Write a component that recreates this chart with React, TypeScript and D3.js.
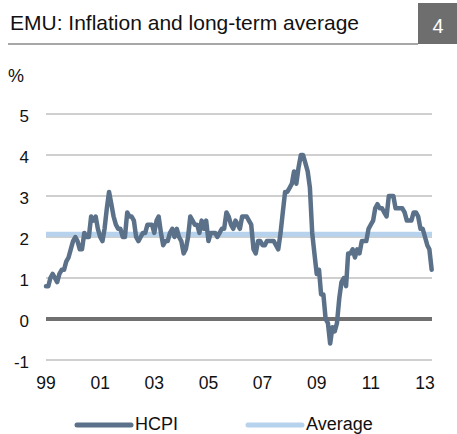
import * as d3 from "d3";
import { useEffect, useRef } from "react";

// euro area HICP, % y/y, monthly from Jan 1999 to Apr 2013
const hcpi1999 = [0.8, 0.8, 1.0, 1.1, 1.0, 0.9, 1.1, 1.2, 1.2, 1.4, 1.5, 1.7];
const hcpi2000 = [1.9, 2.0, 1.9, 1.7, 1.7, 2.1, 2.0, 2.0, 2.5, 2.4, 2.5, 2.2];
const hcpi2001 = [2.0, 1.9, 2.2, 2.7, 3.1, 2.8, 2.5, 2.3, 2.2, 2.2, 2.0, 2.0];
const hcpi2002 = [2.6, 2.5, 2.5, 2.4, 2.0, 1.9, 2.0, 2.1, 2.1, 2.3, 2.3, 2.3];
const hcpi2003 = [2.1, 2.4, 2.5, 2.1, 1.8, 1.9, 1.9, 2.1, 2.2, 2.0, 2.2, 2.0];
const hcpi2004 = [1.9, 1.6, 1.7, 2.0, 2.5, 2.4, 2.3, 2.3, 2.1, 2.4, 2.2, 2.4];
const hcpi2005 = [1.9, 2.1, 2.1, 2.1, 2.0, 2.1, 2.2, 2.2, 2.6, 2.5, 2.3, 2.2];
const hcpi2006 = [2.4, 2.3, 2.2, 2.5, 2.5, 2.5, 2.4, 2.3, 1.7, 1.6, 1.9, 1.9];
const hcpi2007 = [1.8, 1.8, 1.9, 1.9, 1.9, 1.9, 1.8, 1.7, 2.1, 2.6, 3.1, 3.1];
const hcpi2008 = [3.2, 3.3, 3.6, 3.3, 3.7, 4.0, 4.0, 3.8, 3.6, 3.2, 2.1, 1.6];
const hcpi2009 = [1.1, 1.2, 0.6, 0.6, 0.0, -0.1, -0.6, -0.2, -0.3, -0.1, 0.5, 0.9];
const hcpi2010 = [1.0, 0.8, 1.6, 1.6, 1.7, 1.5, 1.7, 1.6, 1.9, 1.9, 1.9, 2.2];
const hcpi2011 = [2.3, 2.4, 2.7, 2.8, 2.7, 2.7, 2.6, 2.5, 3.0, 3.0, 3.0, 2.7];
const hcpi2012 = [2.7, 2.7, 2.7, 2.6, 2.4, 2.4, 2.4, 2.6, 2.6, 2.5, 2.2, 2.2];
const hcpi2013 = [2.0, 1.8, 1.7, 1.2];

const longTermAverage = 2.07;
const yTicks = [-1, 0, 1, 2, 3, 4, 5];
const xTickYears = [1999, 2001, 2003, 2005, 2007, 2009, 2011, 2013];
const legendLabels = ["HCPI", "Average"];

const HCPI_COLOR = "#5a7189";
const AVG_COLOR = "#b7d2ec";
const FONT = "Arial, 'Liberation Sans', sans-serif";

const Chart = () => {
    const ref = useRef<SVGSVGElement>(null);

    useEffect(() => {
        const svg = d3.select(ref.current);
        svg.selectAll("*").remove();

        const values = [
            ...hcpi1999, ...hcpi2000, ...hcpi2001, ...hcpi2002, ...hcpi2003,
            ...hcpi2004, ...hcpi2005, ...hcpi2006, ...hcpi2007, ...hcpi2008,
            ...hcpi2009, ...hcpi2010, ...hcpi2011, ...hcpi2012, ...hcpi2013,
        ];
        const data = values.map((v, i) => ({ date: new Date(1999, i, 1), value: v }));

        const x = d3.scaleTime()
            .domain([new Date(1999, 0, 1), new Date(2013, 0, 1)])
            .range([46, 425]);
        const y = d3.scaleLinear().domain([-1, 5]).range([360, 114]);

        // title + box
        svg.append("text")
            .attr("x", 10).attr("y", 30)
            .attr("font-size", 21)
            .attr("fill", "#111")
            .text("EMU: Inflation and long-term average");
        svg.append("line")
            .attr("x1", 8).attr("x2", 418)
            .attr("y1", 44).attr("y2", 44)
            .attr("stroke", "#8a8a8a").attr("stroke-width", 1.5);
        svg.append("rect")
            .attr("x", 418).attr("y", 3)
            .attr("width", 39).attr("height", 41)
            .attr("fill", "#6e6e6e");
        svg.append("text")
            .attr("x", 438).attr("y", 33)
            .attr("text-anchor", "middle")
            .attr("font-size", 20)
            .attr("fill", "white")
            .text("4");
        svg.append("text")
            .attr("x", 8).attr("y", 82)
            .attr("font-size", 18)
            .attr("fill", "#111")
            .text("%");

        // grid
        svg.append("g")
            .selectAll("line")
            .data(yTicks)
            .join("line")
            .attr("x1", 46).attr("x2", 432)
            .attr("y1", d => y(d)).attr("y2", d => y(d))
            .attr("stroke", d => d === 0 ? "#707070" : "#a0a0a0")
            .attr("stroke-width", d => d === 0 ? 4 : 1.2);

        svg.append("g")
            .selectAll("text")
            .data(yTicks)
            .join("text")
            .attr("x", 29)
            .attr("y", d => y(d) + 7.5)
            .attr("text-anchor", "end")
            .attr("font-size", 17)
            .attr("fill", "#111")
            .text(d => d);

        svg.append("g")
            .selectAll("text")
            .data(xTickYears)
            .join("text")
            .attr("x", d => x(new Date(d, 0, 1)))
            .attr("y", 389)
            .attr("text-anchor", "middle")
            .attr("font-size", 17.5)
            .attr("fill", "#111")
            .text(d => d3.timeFormat("%y")(new Date(d, 0, 1)));

        // average
        svg.append("line")
            .attr("x1", 46).attr("x2", 432)
            .attr("y1", y(longTermAverage)).attr("y2", y(longTermAverage))
            .attr("stroke", AVG_COLOR).attr("stroke-width", 5);

        // hcpi line
        const line = d3.line<{ date: Date; value: number }>()
            .x(d => x(d.date))
            .y(d => y(d.value));
        svg.append("path")
            .datum(data)
            .attr("d", line)
            .attr("fill", "none")
            .attr("stroke", HCPI_COLOR)
            .attr("stroke-width", 4.5)
            .attr("stroke-linejoin", "round")
            .attr("stroke-linecap", "round");

        // legend
        const legend = svg.append("g");
        const legendX = [77, 248];
        const legendColors = [HCPI_COLOR, AVG_COLOR];
        legendLabels.forEach((label, i) => {
            legend.append("line")
                .attr("x1", legendX[i]).attr("x2", legendX[i] + 54)
                .attr("y1", 425).attr("y2", 425)
                .attr("stroke", legendColors[i])
                .attr("stroke-width", 5)
                .attr("stroke-linecap", "round");
            legend.append("text")
                .attr("x", legendX[i] + 58)
                .attr("y", 430)
                .attr("font-size", 18)
                .attr("fill", "#111")
                .text(label);
        });
    }, []);

    return (
        <svg ref={ref} width={457} height={434}
            style={{ position: "absolute", left: 0, top: 0, fontFamily: FONT }} />
    );
};

export default function App() {
    return <Chart />;
}
